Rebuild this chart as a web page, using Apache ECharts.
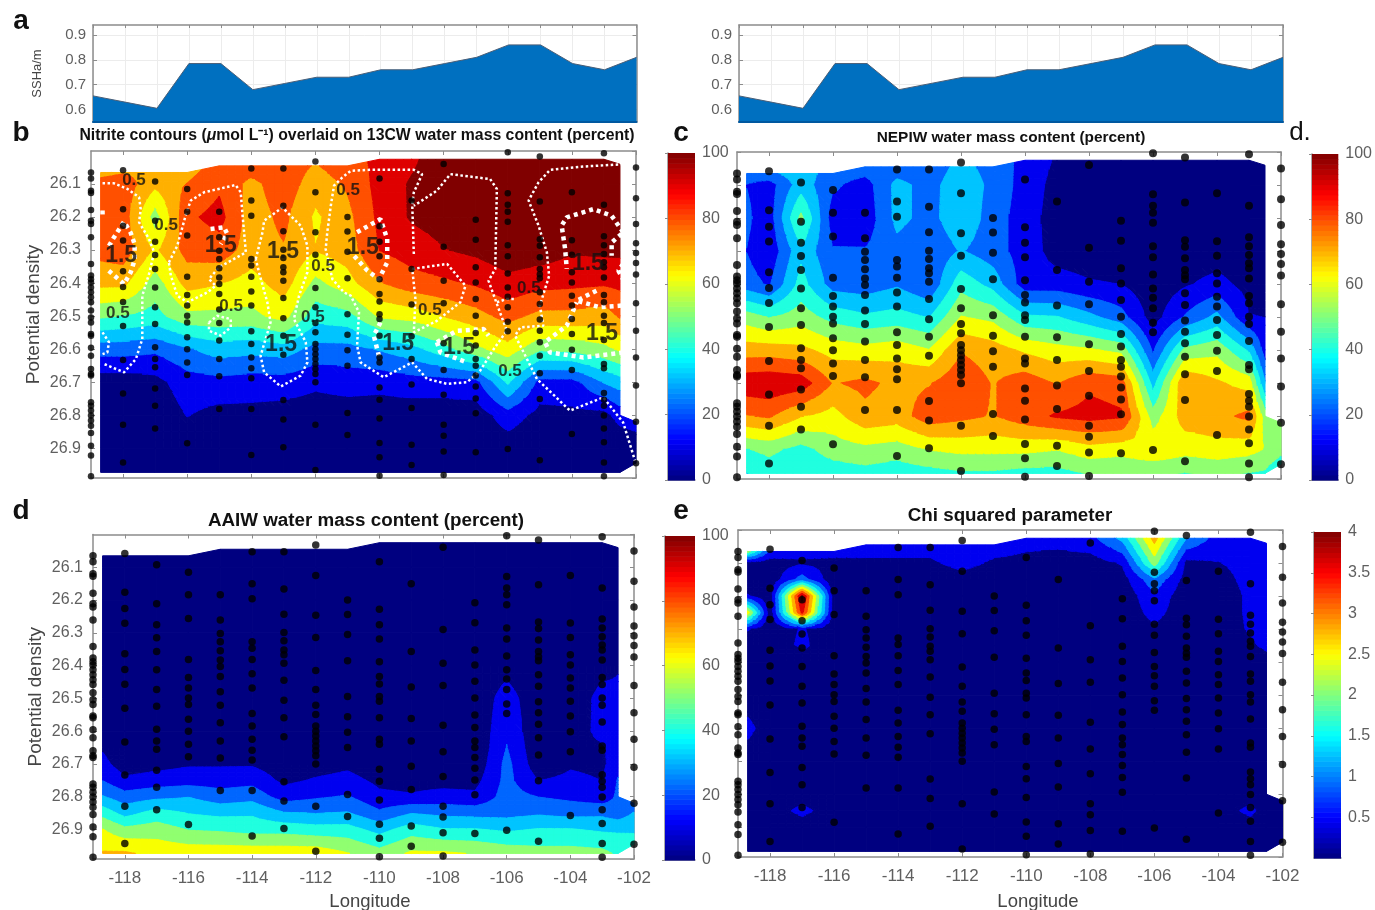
<!DOCTYPE html>
<html>
<head>
<meta charset="utf-8">
<style>html,body{margin:0;padding:0;background:#fff}#c{width:1375px;height:910px;filter:blur(0.45px)}</style>
<script src="https://cdn.jsdelivr.net/npm/echarts@6/dist/echarts.min.js"></script>
</head>
<body>
<div id="c"></div>
<script>
// ---------- data ----------
const sshLon = [-119,-118,-117,-116,-115,-114,-113,-112,-111,-110,-109,-108,-107,-106,-105,-104,-103,-102];
const sshValues = [0.655,0.63,0.605,0.785,0.785,0.68,0.705,0.73,0.73,0.76,0.76,0.785,0.81,0.86,0.86,0.785,0.76,0.81];

const gridLon = [-118.7,-118,-117,-116,-115,-114,-113,-112,-111,-110,-109,-108,-107,-106,-105,-104,-103,-102.5,-102];
const topEdge = [26.065,26.065,26.065,26.065,26.045,26.045,26.045,26.045,26.045,26.025,26.025,26.025,26.025,26.025,26.025,26.025,26.025,26.04,26.06];
const bottomEdge = [26.973,26.973,26.973,26.973,26.973,26.973,26.973,26.973,26.973,26.973,26.973,26.973,26.973,26.973,26.973,26.973,26.973,26.973,26.945];
const n = null;

const cw13Rows = ['top',26.1,26.2,26.3,26.4,26.5,26.6,26.7,26.8,26.9,'bottom'];
const cw13Values = [
[70,72,70,70,76,78,78,72,78,84,89,97,97,97,97,97,97,97,n],
[76,78,66,73,80,70,78,68,74,85,92,97,97,97,97,97,97,97,n],
[78,78,50,80,85,68,75,62,70,84,92,95,97,98,98,98,98,97,n],
[76,78,62,76,78,68,72,64,68,82,86,90.5,93,97,96,92,93,93,n],
[66,66,50,67,64,60,68,52,60,72,78,80,83,88,85,84,83,84,n],
[47,45,42,52,52,52,58,40,42,56,58,64,69,76,70,70,68,74,n],
[22,22,20,26,32,30,32,24,24,28,33,42,52,60,47,48,52,56,n],
[4,4,6,14,15,14,14,11,13,12,14,14,15,38,15,15,28,32,n],
[2,2,2,9.5,6,6,5,4,4,4,4,4,4,14,6,7,6,13,14],
[1,1,1,1,1,1,1,1,1,1,1,1,1,4,1,1,1,1,1],
[1,1,1,1,1,1,1,1,1,1,1,1,1,1,1,1,1,1,1]];

const nepiwRows = ['top',26.1,26.2,26.3,26.4,26.5,26.6,26.7,26.8,26.9,'bottom'];
const nepiwValues = [
[23,25,33,22,23,22,22,30,24,15,8,5,5,3,4,4,4,5,n],
[18,14,32,20,14,30,24,33,25,14,6,4,4,3,4,4,4,5,n],
[20,13,48,13,12,30,24,34,23,13,5,4,4,3,4,4,4,5,n],
[18,11,34,19,19,24,20,28,22,14,5,4,4,3,4,4,4,5,n],
[22,17,40,23,22,26,19,42,33,13,13,10,9,3,8,12,6,5,n],
[50,45,50,42,38,40,36,55,52,38,37,30,22,5,19,30,9.5,9,n],
[68,68,66,60,58,60,55,72,68,62,58,56,52,17,48,52,35,14,n],
[88,89,87,72,75,70,72,80,72,78,72,80,78,33,72,65,60,28,n],
[72,74,64,60,70,68,78,75,72,78,83,85,83,50,68,70,75,50,47],
[45,48,42,50,52,50,55,57,57,57,55,60,58,62,58,60,58,54,50],
[36,40,38,40,42,40,42,44,44,42,42,46,46,47,45,47,45,44,40]];

const aaiwRows = ['top',26.1,26.2,26.3,26.4,26.5,26.6,26.65,26.7,26.75,26.8,26.85,26.9,'bottom'];
const aaiwValues = [
[1,1,1,1,1,1,1,1,1,1,1,1,1,1,1,1,1,1,n],
[1,1,1,1,1,1,1,1,1,1,1,1,1,1,1,1,1,1,n],
[1,1,1,1,1,1,1,1,1,1,1,1,1,1,1,1,1,1,n],
[1,1,1,1,1,1,1,1,1,1,1,1,1,1,1,1,1,1,n],
[1,1,1,1,1,1,1,1,1,1,1,1,1,5,1,1,5,8,n],
[1,1,1,1,1,1,1,1,1,1,1,1,1,14,1,1,13,12,n],
[2,1,1,1,1,1,1,1,1,1,1,1,1,17,1,2,13,12,n],
[8,2,3,3,3,3,2,2,3,1,1,1,1,18.5,2,4,8,13,n],
[12,4,6,8,8,8,4,5,7,3,2,2,2,21,3,8,7,15,n],
[18,11,13,14,14,15,7,10,12,7,6,6,6,21,9,11,9,19,n],
[28,22,25,27,22,24,14,17,19,11,10,12,11,22,18,16,13,20,20],
[42,33,40,36,34,35,28,27,28,20,27,25,24,24,26,24,25,22,28],
[55,48,50,45,44,42,42,40,40,33,41,37,37,35,37,37,35,35,35],
[64.5,65,61,60,60,60,60,60,55,49,56,56,54,51,49,49,48,44,40]];

const chiRows = ['top',26.1,26.15,26.2,26.25,26.3,26.35,26.4,26.5,26.6,26.7,26.8,26.85,26.9,'bottom'];
const chiValues = [
[2.0,0.6,0.5,0.5,0.55,0.55,0.55,0.55,0.55,0.5,0.5,0.6,1.2,2.7,1.1,0.55,0.55,0.55,n],
[0.2,0.2,0.3,0.25,0.3,0.3,0.3,0.5,0.3,0.25,0.2,0.2,0.4,2.0,0.25,0.35,0.5,0.5,n],
[0.1,0.1,0.9,0.1,0.1,0.1,0.1,0.2,0.1,0.1,0.1,0.1,0.2,1.0,0.2,0.2,0.5,0.5,n],
[0.4,0.1,3.75,0.1,0.1,0.1,0.1,0.1,0.1,0.1,0.1,0.1,0.1,0.65,0.1,0.1,0.45,0.5,n],
[2.4,0.1,3.4,0.1,0.1,0.1,0.1,0.1,0.1,0.1,0.1,0.1,0.1,0.5,0.1,0.1,0.45,0.5,n],
[0.4,0.1,0.4,0.1,0.1,0.1,0.1,0.1,0.1,0.1,0.1,0.1,0.1,0.3,0.1,0.1,0.42,0.5,n],
[0.1,0.1,0.45,0.1,0.1,0.1,0.1,0.1,0.1,0.1,0.1,0.1,0.1,0.1,0.1,0.1,0.3,0.45,n],
[0.1,0.1,0.1,0.1,0.1,0.1,0.1,0.1,0.1,0.1,0.1,0.1,0.1,0.1,0.1,0.1,0.1,0.2,n],
[0.1,0.1,0.1,0.1,0.1,0.1,0.1,0.1,0.1,0.1,0.1,0.1,0.1,0.1,0.1,0.1,0.1,0.1,n],
[0.5,0.1,0.1,0.1,0.1,0.1,0.1,0.1,0.1,0.1,0.1,0.1,0.1,0.1,0.1,0.1,0.1,0.1,n],
[0.1,0.1,0.1,0.1,0.1,0.1,0.1,0.1,0.1,0.1,0.1,0.1,0.1,0.1,0.1,0.1,0.1,0.1,n],
[0.1,0.1,0.1,0.1,0.1,0.1,0.1,0.1,0.1,0.1,0.1,0.1,0.1,0.1,0.1,0.1,0.1,0.1,0.1],
[0.1,0.1,0.5,0.1,0.1,0.1,0.1,0.1,0.1,0.1,0.1,0.1,0.1,0.1,0.1,0.1,0.5,0.1,0.1],
[0.1,0.1,0.1,0.1,0.1,0.1,0.1,0.1,0.1,0.1,0.1,0.1,0.1,0.1,0.1,0.1,0.1,0.1,0.1],
[0.05,0.05,0.05,0.05,0.05,0.05,0.05,0.05,0.05,0.05,0.05,0.05,0.05,0.05,0.05,0.05,0.05,0.05,0.05]];

const stationLon = [-119,-118,-117,-116,-115,-114,-113,-112,-111,-110,-109,-108,-107,-106,-105,-104,-103,-102];
const stationDensity = [
[26.065,26.083,26.12,26.127,26.179,26.211,26.221,26.261,26.342,26.377,26.388,26.398,26.413,26.428,26.443,26.458,26.483,26.504,26.519,26.554,26.559,26.596,26.62,26.66,26.675,26.68,26.761,26.771,26.786,26.801,26.816,26.832,26.854,26.892,26.922,26.985],
[26.058,26.176,26.226,26.271,26.364,26.412,26.457,26.53,26.633,26.734,26.829,26.943],
[26.092,26.211,26.275,26.315,26.357,26.413,26.473,26.524,26.594,26.63,26.655,26.719,26.771,26.84],
[26.115,26.184,26.256,26.381,26.436,26.468,26.499,26.519,26.564,26.6,26.64,26.678,26.885],
[26.184,26.261,26.302,26.327,26.355,26.383,26.403,26.433,26.48,26.521,26.574,26.63,26.682,26.781],
[26.053,26.15,26.196,26.327,26.347,26.381,26.425,26.468,26.546,26.584,26.625,26.658,26.688,26.781,26.92],
[26.053,26.166,26.243,26.299,26.324,26.352,26.367,26.393,26.445,26.506,26.559,26.617,26.754,26.813,26.897],
[26.032,26.125,26.246,26.314,26.415,26.473,26.521,26.549,26.584,26.6,26.615,26.63,26.645,26.66,26.675,26.7,26.829,26.966],
[26.2,26.244,26.305,26.385,26.494,26.556,26.603,26.65,26.793,26.86],
[26.083,26.228,26.275,26.319,26.388,26.433,26.456,26.494,26.509,26.559,26.625,26.64,26.716,26.753,26.81,26.884,26.927,26.983],
[26.15,26.357,26.465,26.561,26.63,26.707,26.778,26.889,26.951],
[26.039,26.29,26.393,26.461,26.582,26.663,26.738,26.829,26.862,26.91,26.981],
[26.208,26.269,26.352,26.398,26.448,26.499,26.551,26.589,26.63,26.65,26.68,26.713,26.749,26.794,26.912],
[26.004,26.128,26.163,26.184,26.214,26.285,26.319,26.371,26.413,26.441,26.473,26.517,26.546,26.902],
[26.017,26.153,26.267,26.287,26.322,26.357,26.373,26.385,26.428,26.463,26.51,26.544,26.579,26.62,26.673,26.751,26.936],
[26.125,26.27,26.314,26.367,26.398,26.438,26.468,26.509,26.554,26.602,26.663,26.857],
[26.007,26.163,26.258,26.285,26.312,26.337,26.352,26.383,26.436,26.458,26.499,26.521,26.572,26.645,26.658,26.733,26.753,26.771,26.801,26.84,26.882,26.943,26.985],
[26.05,26.143,26.221,26.279,26.309,26.339,26.374,26.461,26.544,26.625,26.71,26.82,26.945]];

const nitriteThin = [
[[-118.64,26.098],[-118.28,26.098],[-117.86,26.115],[-117.5,26.14],[-117.45,26.176],[-117.5,26.216],[-117.19,26.266],[-117.03,26.307],[-117.19,26.372],[-117.4,26.438],[-117.4,26.569],[-117.6,26.63],[-117.97,26.67],[-118.59,26.645]],
[[-118.64,26.549],[-118.44,26.579],[-118.49,26.61],[-118.64,26.615]],
[[-116.57,26.337],[-116.31,26.287],[-116.05,26.196],[-115.89,26.15],[-115.47,26.125],[-114.49,26.103],[-114.33,26.125],[-114.28,26.186],[-114.17,26.307],[-115.01,26.352],[-115.32,26.388],[-115.11,26.408],[-115.37,26.428],[-115.99,26.458],[-116.31,26.438],[-116.51,26.377],[-116.57,26.337]],
[[-115.32,26.519],[-115.06,26.499],[-114.64,26.509],[-114.64,26.534],[-114.95,26.559],[-115.32,26.544],[-115.32,26.519]],
[[-113.86,26.327],[-113.65,26.246],[-113.6,26.211],[-113.03,26.171],[-112.46,26.226],[-112.25,26.287],[-112.25,26.367],[-112.51,26.438],[-112.67,26.509],[-112.3,26.579],[-112.25,26.64],[-112.46,26.68],[-113.08,26.713],[-113.6,26.67],[-113.71,26.62],[-113.4,26.519],[-113.5,26.458],[-113.76,26.367],[-113.86,26.327]],
[[-108.93,26.312],[-108.98,26.161],[-108.93,26.125],[-108.67,26.07],[-108.93,26.057],[-110.28,26.057],[-110.9,26.06],[-111.16,26.08],[-111.42,26.105],[-111.52,26.166],[-111.63,26.246],[-111.68,26.297],[-111.47,26.388],[-111.11,26.428],[-110.9,26.438],[-110.64,26.488],[-110.7,26.589],[-110.59,26.64],[-109.87,26.685],[-108.98,26.64],[-108.52,26.69],[-107.89,26.705],[-107.27,26.7],[-106.86,26.665],[-106.44,26.6],[-106.03,26.544],[-106.34,26.463],[-106.6,26.393],[-106.39,26.357],[-106.34,26.115],[-106.55,26.085],[-107.79,26.07],[-108.21,26.12],[-108.93,26.166]],
[[-108.98,26.357],[-107.89,26.342],[-107.32,26.408],[-107.48,26.458],[-108.21,26.514],[-108.93,26.549],[-108.88,26.448],[-108.98,26.357]],
[[-102.4,26.04],[-103.64,26.047],[-104.68,26.057],[-105.04,26.095],[-105.35,26.15],[-105.04,26.226],[-104.78,26.307],[-104.71,26.378],[-105,26.468],[-104.89,26.529],[-105.61,26.534],[-105.77,26.559],[-105.4,26.63],[-105.09,26.69],[-104.06,26.786],[-103.02,26.746],[-102.4,26.822],[-102.03,26.938]],
[[-106.34,26.458],[-106.03,26.448],[-105.77,26.448]]];

const nitriteThick = [
[[-118.44,26.287],[-118.28,26.261],[-117.97,26.214],[-117.76,26.248],[-117.64,26.282],[-117.64,26.33],[-117.76,26.367],[-117.97,26.403],[-118.49,26.359]],
[[-118.64,26.18],[-118.64,26.2]],
[[-115.27,26.236],[-114.85,26.231],[-114.75,26.251],[-114.95,26.282]],
[[-110.7,26.246],[-109.97,26.206],[-109.76,26.266],[-109.76,26.337],[-110.02,26.388],[-110.38,26.362],[-110.8,26.317]],
[[-102.4,26.246],[-102.76,26.196],[-103.33,26.176],[-104.16,26.201],[-104.32,26.226],[-104.21,26.297],[-104.16,26.357]],
[[-102.45,26.251],[-102.76,26.277],[-102.76,26.317]],
[[-102.4,26.342],[-102.55,26.362],[-102.35,26.398]],
[[-102.45,26.468],[-103.13,26.473],[-103.85,26.453],[-103.23,26.423]],
[[-102.4,26.61],[-103.64,26.625],[-104.68,26.61],[-104.84,26.579],[-104.16,26.529],[-103.85,26.458]],
[[-108.21,26.579],[-107.58,26.544],[-106.75,26.539],[-106.6,26.559]],
[[-108.21,26.579],[-108.1,26.61],[-107.27,26.64]],
[[-109.97,26.519],[-110.18,26.559],[-110.02,26.62]]];

const label05 = [[-117.66,26.088],[-116.66,26.224],[-114.63,26.47],[-111.76,26.348],[-110.98,26.118],[-108.43,26.482],[-112.08,26.503],[-105.93,26.667],[-105.34,26.415],[-118.16,26.491]];
const label15 = [[-118.06,26.318],[-114.95,26.288],[-113.01,26.306],[-110.52,26.294],[-113.07,26.585],[-109.42,26.582],[-107.52,26.594],[-103.5,26.342],[-103.06,26.552]];

const percentTicks = [0,20,40,60,80,100];
const chiTicks = [0.5,1,1.5,2,2.5,3,3.5,4];
const evenLon = [-118,-116,-114,-112,-110,-108,-106,-104,-102];

// ---------- styling ----------
const bandColors = ['#000080','#0000f0','#0066ff','#00c4ff','#20ffdf','#90ff70','#f8ff00','#ffb000','#ff5000','#df0000','#800000'];
const FONT = '"Liberation Sans",Arial,sans-serif';
const frame = '#8c8c8c', tickText = '#5f5f5f';
const SUB = 4;

function jet(t){
  const c = x => Math.round(255*Math.max(0,Math.min(1,x)));
  return `rgb(${c(Math.min(4*t-1.5,-4*t+4.5))},${c(Math.min(4*t-0.5,-4*t+3.5))},${c(Math.min(4*t+0.5,-4*t+2.5))})`;
}
function clip(poly,test,level){
  const out=[];
  for(let i=0;i<poly.length;i++){
    const a=poly[i],b=poly[(i+1)%poly.length];
    const ai=test(a[2]),bi=test(b[2]);
    if(ai) out.push(a);
    if(ai!==bi){
      const t=(level-a[2])/(b[2]-a[2]);
      out.push([a[0]+t*(b[0]-a[0]),a[1]+t*(b[1]-a[1]),level]);
    }
  }
  return out;
}
function makeCells(rows,values){
  const cells=[];
  const dens=(i,j)=>{
    if(rows[j]==='top') return topEdge[i];
    if(rows[j]==='bottom') return bottomEdge[i];
    if(i===gridLon.length-1 && rows[j]===26.8) return 26.82;
    return rows[j];
  };
  for(let j=0;j<rows.length-1;j++) for(let i=0;i<gridLon.length-1;i++){
    const v=[values[j][i],values[j][i+1],values[j+1][i+1],values[j+1][i]];
    if(v.some(x=>x===null)) continue;
    cells.push([gridLon[i],dens(i,j),v[0],gridLon[i+1],dens(i+1,j),v[1],gridLon[i+1],dens(i+1,j+1),v[2],gridLon[i],dens(i,j+1),v[3]]);
  }
  return cells;
}
function contourSeries(rows,values,maxV,xi,yi){
  const K=bandColors.length, step=maxV/K;
  const bandOf=v=>Math.min(K-1,Math.floor(v/step));
  const emit=(children,poly,k)=>children.push({type:'polygon',shape:{points:poly.map(a=>[a[0],a[1]])},style:{fill:bandColors[k],stroke:bandColors[k],lineWidth:1}});
  return {
    type:'custom',xAxisIndex:xi,yAxisIndex:yi,z:2,silent:true,clip:false,
    encode:{x:0,y:1},
    data:makeCells(rows,values),
    renderItem(params,api){
      const q=[0,3,6,9].map(k=>{
        const p=api.coord([api.value(k),api.value(k+1)]);
        return [p[0],p[1],api.value(k+2)];
      });
      const children=[];
      const same=q.every(a=>bandOf(a[2])===bandOf(q[0][2]));
      if(same){emit(children,q,bandOf(q[0][2]));return {type:'group',children};}
      const at=(s,t)=>[0,1,2].map(c=>(1-t)*((1-s)*q[0][c]+s*q[1][c])+t*((1-s)*q[3][c]+s*q[2][c]));
      for(let a=0;a<SUB;a++) for(let b=0;b<SUB;b++){
        const p=[at(a/SUB,b/SUB),at((a+1)/SUB,b/SUB),at((a+1)/SUB,(b+1)/SUB),at(a/SUB,(b+1)/SUB)];
        if(p.every(x=>bandOf(x[2])===bandOf(p[0][2]))){emit(children,p,bandOf(p[0][2]));continue;}
        [[p[0],p[1],p[2]],[p[0],p[2],p[3]]].forEach(tri=>{
          bandColors.forEach((col,k)=>{
            const lo=k*step,hi=k===K-1?Infinity:(k+1)*step;
            let r=clip(tri,x=>x>=lo,lo);
            if(r.length>2&&hi!==Infinity) r=clip(r,x=>x<=hi,hi);
            if(r.length>2) emit(children,r,k);
          });
        });
      }
      return {type:'group',children};
    }
  };
}
function jetSeries(maxV,xi,yi){
  const levels=[];
  for(let i=0;i<64;i++) levels.push([i/64*maxV,(i+1)/64*maxV]);
  return {
    type:'custom',xAxisIndex:xi,yAxisIndex:yi,z:2,silent:true,
    encode:{y:[0,1]},data:levels,
    renderItem(params,api){
      const a=api.coord([0,api.value(0)]),b=api.coord([1,api.value(1)]);
      return {type:'rect',shape:{x:a[0],y:b[1],width:b[0]-a[0],height:a[1]-b[1]+0.6},style:{fill:jet((api.value(0)+api.value(1))/2/maxV)}};
    }
  };
}

const grids=[], xAxes=[], yAxes=[], series=[];
function lineS(){return {show:true,lineStyle:{color:frame,width:1.5}};}
function tickS(vals,len){const t={show:true,inside:true,length:len||4,lineStyle:{color:frame,width:1}};if(vals)t.customValues=vals;return t;}

function addContourPanel(box,opt){
  const g=grids.length; grids.push(box);
  const xi=xAxes.length, yi=yAxes.length;
  const lab={show:!!opt.xLabels,color:tickText,fontSize:17,fontFamily:FONT,margin:11,customValues:evenLon,formatter:v=>String(v)};
  xAxes.push({type:'value',gridIndex:g,min:-119,max:-102,position:'bottom',axisLine:lineS(),axisTick:tickS(evenLon),axisLabel:lab,splitLine:{show:false}});
  xAxes.push({type:'value',gridIndex:g,min:-119,max:-102,position:'top',axisLine:lineS(),axisTick:tickS(evenLon),axisLabel:{show:false},splitLine:{show:false}});
  yAxes.push({type:'value',gridIndex:g,min:26,max:26.99,interval:0.1,inverse:true,position:'left',axisLine:lineS(),axisTick:tickS(),
    axisLabel:{show:!!opt.yLabels,showMinLabel:false,showMaxLabel:false,color:tickText,fontSize:16,fontFamily:FONT,margin:10,formatter:v=>v.toFixed(1)},splitLine:{show:false},
    name:opt.yLabels?'Potential density':'',nameLocation:'middle',nameGap:48,nameTextStyle:{color:'#444',fontSize:19,fontFamily:FONT}});
  yAxes.push({type:'value',gridIndex:g,min:26,max:26.99,interval:0.1,inverse:true,position:'right',axisLine:lineS(),axisTick:tickS(),axisLabel:{show:false},splitLine:{show:false}});
  series.push(contourSeries(opt.rows,opt.values,opt.maxV,xi,yi));
  return {xi,yi};
}
function addDots(ref,size){
  const pts=[];
  stationLon.forEach((lon,i)=>stationDensity[i].forEach(d=>pts.push([lon,d])));
  series.push({type:'scatter',xAxisIndex:ref.xi,yAxisIndex:ref.yi,data:pts,symbolSize:size,itemStyle:{color:'#000'},z:6,clip:false,silent:true});
}
function addColorbar(box,maxV,ticks){
  const g=grids.length; grids.push(box);
  const xi=xAxes.length, yi=yAxes.length;
  xAxes.push({type:'value',gridIndex:g,min:0,max:1,position:'bottom',axisLine:lineS(),axisTick:{show:false},axisLabel:{show:false},splitLine:{show:false}});
  yAxes.push({type:'value',gridIndex:g,min:0,max:maxV,position:'right',axisLine:lineS(),
    axisTick:{show:true,inside:true,length:3,lineStyle:{color:frame},customValues:ticks},
    axisLabel:{show:true,color:tickText,fontSize:16,fontFamily:FONT,margin:7,customValues:ticks,formatter:v=>String(v)},splitLine:{show:false}});
  series.push(jetSeries(maxV,xi,yi));
}
function addSSH(box,showName){
  const g=grids.length; grids.push(box);
  const xi=xAxes.length, yi=yAxes.length;
  const yv=[0.6,0.7,0.8,0.9];
  xAxes.push({type:'value',gridIndex:g,min:-119,max:-102,interval:1,position:'bottom',z:6,axisLine:{show:true,lineStyle:{color:'#0058a0',width:2}},axisTick:{show:false},axisLabel:{show:false},splitLine:{show:false}});
  xAxes.push({type:'value',gridIndex:g,min:-119,max:-102,interval:1,position:'top',axisLine:lineS(),axisTick:tickS(null,3),axisLabel:{show:false},splitLine:{show:true,lineStyle:{color:'#ececec',width:1}}});
  yAxes.push({type:'value',gridIndex:g,min:0.55,max:0.94,position:'left',axisLine:lineS(),axisTick:tickS(yv,4),
    axisLabel:{show:true,color:tickText,fontSize:15,fontFamily:FONT,margin:7,customValues:yv,formatter:v=>v.toFixed(1)},splitLine:{show:false},
    name:showName?'SSHa/m':'',nameLocation:'middle',nameGap:49,nameTextStyle:{color:'#444',fontSize:13,fontFamily:FONT}});
  yAxes.push({type:'value',gridIndex:g,min:0.55,max:0.94,position:'right',axisLine:lineS(),axisTick:tickS(yv,4),axisLabel:{show:false},splitLine:{show:false}});
  series.push({type:'line',xAxisIndex:xi,yAxisIndex:yi,z:1,silent:true,data:[],markLine:{z:0,silent:true,symbol:'none',label:{show:false},animation:false,lineStyle:{color:'#ececec',width:1,type:'solid'},data:yv.map(v=>({yAxis:v}))}});
  series.push({type:'line',xAxisIndex:xi,yAxisIndex:yi,z:2,silent:true,showSymbol:false,
    data:sshLon.map((l,i)=>[l,sshValues[i]]),lineStyle:{color:'#4a5f78',width:1},areaStyle:{color:'#0070c0',opacity:1,origin:'start'}});
}

// panels a
addSSH({left:93,top:25,width:543.5,height:97},true);
addSSH({left:739,top:25,width:544,height:97},false);
// panel b
const refB=addContourPanel({left:91,top:151,width:545,height:327},{rows:cw13Rows,values:cw13Values,maxV:100,yLabels:true});
nitriteThin.forEach(l=>series.push({type:'line',xAxisIndex:refB.xi,yAxisIndex:refB.yi,data:l,showSymbol:false,z:4,silent:true,clip:false,lineStyle:{color:'#fff',width:2.5,type:[2.5,2.5]}}));
nitriteThick.forEach(l=>series.push({type:'line',xAxisIndex:refB.xi,yAxisIndex:refB.yi,data:l,showSymbol:false,z:4,silent:true,clip:false,lineStyle:{color:'#fff',width:4.5,type:[4,4]}}));
addDots(refB,6.5);
series.push({type:'scatter',xAxisIndex:refB.xi,yAxisIndex:refB.yi,data:label05,symbolSize:0,z:8,silent:true,label:{show:true,position:'inside',formatter:'0.5',color:'#111',fontSize:17,fontWeight:'bold',fontFamily:FONT}});
series.push({type:'scatter',xAxisIndex:refB.xi,yAxisIndex:refB.yi,data:label15,symbolSize:0,z:8,silent:true,label:{show:true,position:'inside',formatter:'1.5',color:'#111',fontSize:23,fontWeight:'bold',fontFamily:FONT}});
// panel c
addDots(addContourPanel({left:737,top:152,width:544,height:327},{rows:nepiwRows,values:nepiwValues,maxV:100}),8);
// panel d
addDots(addContourPanel({left:93,top:534.5,width:541,height:324.5},{rows:aaiwRows,values:aaiwValues,maxV:100,yLabels:true,xLabels:true}),7.5);
// panel e
addDots(addContourPanel({left:738,top:530,width:544.5,height:327},{rows:chiRows,values:chiValues,maxV:4,xLabels:true}),7.5);
// colour bars
addColorbar({left:668,top:153,width:27,height:327},100,percentTicks);
addColorbar({left:1312,top:154,width:27,height:326},100,percentTicks);
addColorbar({left:665,top:536,width:30,height:324},100,percentTicks);
addColorbar({left:1314,top:532,width:27,height:326},4,chiTicks);

function T(text,x,y,size,weight,color,rich){
  const ts={fontSize:size,fontWeight:weight||'normal',color:color||'#111',fontFamily:FONT};
  if(rich) ts.rich=rich;
  return {text,left:x,top:y,textAlign:'center',textVerticalAlign:'middle',padding:0,textStyle:ts};
}
const option={
  animation:false,backgroundColor:'#fff',
  title:[
    T('a',21,21,28,'bold'),T('b',21,133,28,'bold'),T('c',681,133,28,'bold'),T('d.',1300,133,26),T('d',21,511,28,'bold'),T('e',681,511,28,'bold'),
    T('{b|Nitrite contours (}{i|μ}{b|mol L⁻¹) overlaid on 13CW water mass content (percent)}',357,136,15.8,'bold','#111',
      {b:{fontSize:15.8,fontWeight:'bold',fontFamily:FONT,color:'#111'},i:{fontSize:15.8,fontWeight:'bold',fontStyle:'italic',fontFamily:FONT,color:'#111'}}),
    T('NEPIW water mass content (percent)',1011,138,15.4,'bold'),
    T('AAIW water mass content (percent)',366,521,18.8,'bold'),
    T('Chi squared parameter',1010,516,18.8,'bold'),
    T('Longitude',370,902,18.5,'normal','#444'),
    T('Longitude',1038,902,18.5,'normal','#444')
  ],
  grid:grids.map(b=>Object.assign({containLabel:false},b)),
  xAxis:xAxes,yAxis:yAxes,series
};
echarts.init(document.getElementById('c'),null,{renderer:'canvas'}).setOption(option);
</script>
</body>
</html>
